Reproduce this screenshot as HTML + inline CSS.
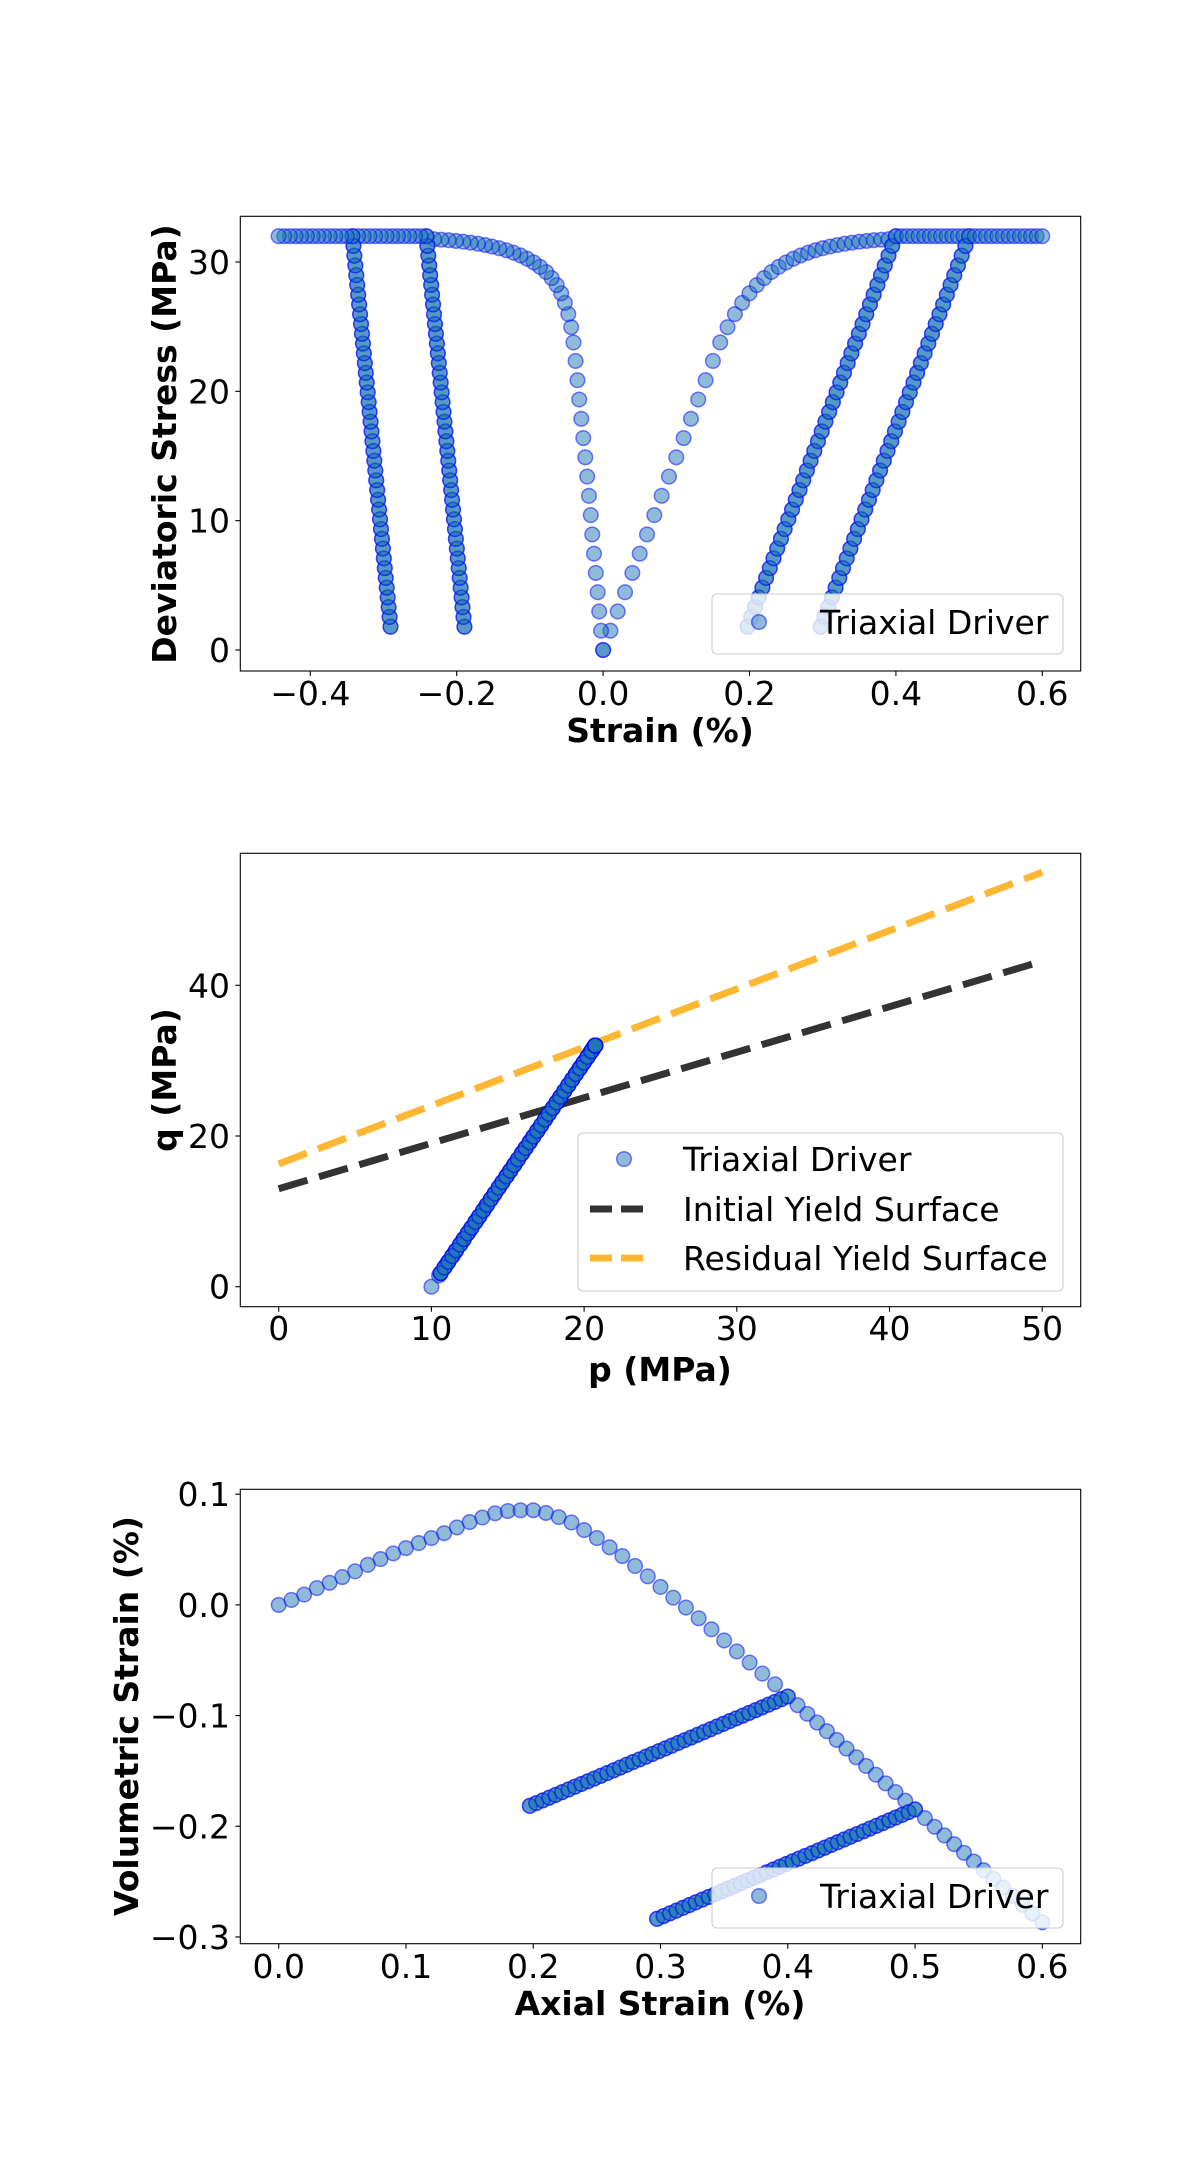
<!DOCTYPE html>
<html><head><meta charset="utf-8">
<style>
html,body{margin:0;padding:0;background:#fff;}
svg{display:block;}
text{font-family:"DejaVu Sans","Liberation Sans",sans-serif;fill:#000;}
.t{font-size:33px;}
.b{font-size:33px;font-weight:bold;}
</style></head>
<body>
<svg id="s" width="1200" height="2160" xmlns="http://www.w3.org/2000/svg">
<rect width="1200" height="2160" fill="#fff"/>
</svg>
<script>
var S=document.getElementById('s');
var NS='http://www.w3.org/2000/svg';
function el(t,a,txt){var e=document.createElementNS(NS,t);for(var k in a)e.setAttribute(k,a[k]);if(txt!==undefined)e.textContent=txt;S.appendChild(e);return e;}
var MF='rgba(31,119,180,0.5)',ME='rgba(0,0,255,0.5)';
function mk(x,y){el('circle',{cx:x.toFixed(2),cy:y.toFixed(2),r:7.3,fill:MF,stroke:ME,'stroke-width':1.5});}

// ---------- data ----------
var vy=[405,392,378,361,347,332,317,300,285,270,256,243,230,217,202,188,176,165,159,157,157,164,175,189,209,230,254,277,303,330,358,386,412,440,469,498,527,556,585,613,645];
function vtab(i){return (405-vy[i])/2900;}
function qload(e){return e<=0.15?149*e:32-9.6*Math.exp(-(e-0.15)/0.0644);}
var seq=[];
for(var i=0;i<=40;i++){var e=i*0.01;seq.push([e,vtab(i),i==40?32:qload(e)]);}
function cycle(ea,va){
  var n=40,qmin=1.8;
  var dn=[];
  for(var k=1;k<=n;k++){var q=32-(32-qmin)*k/n;var de=(32-q)/149;dn.push([ea-de,va-de*0.4875,q]);}
  dn.forEach(function(p){seq.push(p);});
  for(var k=n-1;k>=0;k--){seq.push(dn[k]);}
  seq.push([ea,va,32]);
}
var slope=-1.02;
cycle(0.4,vtab(40));
for(var k=1;k<=13;k++){var e=0.4+k*0.1/13;seq.push([e,vtab(40)+slope*(e-0.4),32]);}
cycle(0.5,vtab(40)+slope*0.1);
for(var k=1;k<=13;k++){var e=0.5+k*0.1/13;seq.push([e,vtab(40)+slope*(e-0.4),32]);}

// ---------- axes helper ----------
var L=240.3,R=1080.7;
function frame(T,B){el('rect',{x:L,y:T,width:R-L,height:B-T,fill:'none',stroke:'#000','stroke-width':1.1});}
function xt(x,B,lab,ly){el('line',{x1:x,y1:B,x2:x,y2:B+5,stroke:'#000','stroke-width':1.1});el('text',{x:x,y:ly,'text-anchor':'middle','class':'t'},lab);}
function yt(y,lab){el('line',{x1:L,y1:y,x2:L-5,y2:y,stroke:'#000','stroke-width':1.1});el('text',{x:230,y:y+12,'text-anchor':'end','class':'t'},lab);}
function ylab(x,cy,lab){el('text',{x:x,y:cy,'text-anchor':'middle','class':'b',transform:'rotate(-90 '+x+' '+cy+')'},lab);}
function legend1(T,B){
  el('rect',{x:712,y:T,width:351,height:B-T,rx:5,fill:'rgba(255,255,255,0.8)',stroke:'#ccc','stroke-width':1.1});
  var cy=(T+B)/2-2;mk(759,cy);
  el('text',{x:820,y:cy+12,'class':'t'},'Triaxial Driver');
}

// ---------- plot 1 ----------
var T1=216.3,B1=671;
function x1(v){return 603.1+v*732;}function y1(q){return 650-q*12.933;}
frame(T1,B1);
seq.forEach(function(p){mk(x1(p[0]),y1(p[2]));});
seq.forEach(function(p){mk(x1((p[1]-p[0])/2),y1(p[2]));});
legend1(594,654);
[-0.4,-0.2,0,0.2,0.4,0.6].forEach(function(v){xt(x1(v),B1,(v<0?'\u2212':'')+Math.abs(v).toFixed(1),705);});
[0,10,20,30].forEach(function(v){yt(y1(v),String(v));});
el('text',{x:660,y:742,'text-anchor':'middle','class':'b'},'Strain (%)');
ylab(176,444,'Deviatoric Stress (MPa)');

// ---------- plot 2 ----------
var T2=853.3,B2=1306.7;
function x2(p){return 278.7+p*15.27;}function y2(q){return 1286.7-q*7.535;}
frame(T2,B2);
el('line',{x1:x2(0),y1:y2(16.3),x2:x2(50),y2:y2(55.0),stroke:'rgba(255,165,0,0.8)','stroke-width':7,'stroke-dasharray':'30 12'});
el('line',{x1:x2(0),y1:y2(13.0),x2:x2(50),y2:y2(43.2),stroke:'rgba(0,0,0,0.8)','stroke-width':7,'stroke-dasharray':'30 12'});
seq.forEach(function(p){var q=p[2];mk(x2(10+q/3+0.02*q/32*3),y2(q));});
el('rect',{x:578,y:1133,width:485,height:158,rx:5,fill:'rgba(255,255,255,0.8)',stroke:'#ccc','stroke-width':1.1});
mk(624,1159);
el('text',{x:683,y:1171,'class':'t'},'Triaxial Driver');
el('line',{x1:590,y1:1209,x2:651,y2:1209,stroke:'rgba(0,0,0,0.8)','stroke-width':7,'stroke-dasharray':'22 9'});
el('text',{x:683,y:1221,'class':'t'},'Initial Yield Surface');
el('line',{x1:590,y1:1258,x2:651,y2:1258,stroke:'rgba(255,165,0,0.8)','stroke-width':7,'stroke-dasharray':'22 9'});
el('text',{x:683,y:1270,'class':'t'},'Residual Yield Surface');
[0,10,20,30,40,50].forEach(function(v){xt(x2(v),B2,String(v),1340);});
[0,20,40].forEach(function(v){yt(y2(v),String(v));});
el('text',{x:660,y:1381,'text-anchor':'middle','class':'b'},'p (MPa)');
ylab(176,1080,'q (MPa)');

// ---------- plot 3 ----------
var T3=1489.3,B3=1943.7;
function x3(v){return 278.7+v*1272.7;}function y3(v){return 1604.9-v*1106.8;}
frame(T3,B3);
seq.forEach(function(p){mk(x3(p[0]),y3(p[1]));});
legend1(1868,1928);
[0,0.1,0.2,0.3,0.4,0.5,0.6].forEach(function(v){xt(x3(v),B3,v.toFixed(1),1978);});
[0.1,0,-0.1,-0.2,-0.3].forEach(function(v){yt(y3(v),(v<0?'\u2212':'')+Math.abs(v).toFixed(1));});
el('text',{x:660,y:2015,'text-anchor':'middle','class':'b'},'Axial Strain (%)');
ylab(138,1716,'Volumetric Strain (%)');
</script>
</body></html>
